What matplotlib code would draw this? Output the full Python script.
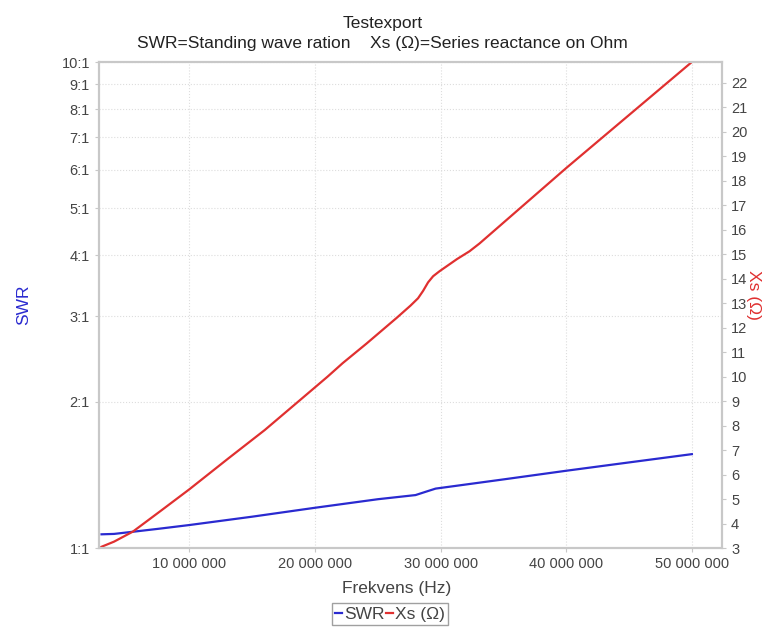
import matplotlib.pyplot as plt
from matplotlib.ticker import FixedLocator, NullLocator, FuncFormatter

plt.rcParams['font.family'] = ['Liberation Sans', 'DejaVu Sans']

# Frekvens (MHz) / Xs (ohm)
freq_mhz = [3.0, 4.0, 5.5, 7.8, 10.0, 13.1, 16.0, 18.8, 21.0, 22.2, 24.1, 26.5, 27.6,
            28.2, 28.6, 29.0, 29.4, 29.9, 31.3, 32.3, 33.1, 40.0, 50.0]
xs = [3.05, 3.26, 3.67, 4.55, 5.40, 6.66, 7.82, 9.04, 10.0, 10.55, 11.35, 12.4, 12.9,
      13.2, 13.5, 13.85, 14.1, 14.3, 14.8, 15.12, 15.44, 18.52, 22.85]

# Frekvens (MHz) / SWR
swr_freq_mhz = [3.0, 4.0, 5.5, 7.5, 10.0, 15.0, 20.0, 25.0, 28.0, 29.0, 29.6, 35.0,
                40.0, 45.0, 50.0]
swr = [1.067, 1.069, 1.080, 1.095, 1.115, 1.16, 1.21, 1.26, 1.285, 1.31, 1.325,
       1.384, 1.442, 1.50, 1.56]

swr_ticks = [1, 2, 3, 4, 5, 6, 7, 8, 9, 10]
xs_ticks = list(range(3, 23))
freq_ticks = [10e6, 20e6, 30e6, 40e6, 50e6]

blue = '#2a2ad0'
red = '#e03030'
grid_col = '#dddddd'
spine_col = '#c8c8c8'
txt_col = '#444444'

fig = plt.figure(figsize=(7.65, 6.28), dpi=100)
ax1 = fig.add_axes([99 / 765, 80 / 628, (722 - 99) / 765, (548 - 62) / 628])

l1, = ax1.plot([f * 1e6 for f in swr_freq_mhz], swr, color=blue, lw=1.6, label='SWR')
ax1.set_yscale('log')
ax1.set_ylim(1, 10)
ax1.set_xlim(2.8e6, 52.4e6)
ax1.yaxis.set_major_locator(FixedLocator(swr_ticks))
ax1.yaxis.set_minor_locator(NullLocator())
ax1.yaxis.set_major_formatter(FuncFormatter(lambda v, p: '%d:1' % round(v)))
ax1.xaxis.set_major_locator(FixedLocator(freq_ticks))
ax1.xaxis.set_major_formatter(FuncFormatter(lambda v, p: '{:,.0f}'.format(v).replace(',', ' ')))
ax1.grid(True, color=grid_col, lw=0.8, ls=':')
ax1.set_ylabel('SWR', color=blue, fontsize=12.5)
ax1.yaxis.set_label_coords(-68 / 623, 0.5)
ax1.set_xlabel('Frekvens (Hz)', color=txt_col, fontsize=12.5)
ax1.xaxis.set_label_coords((397 - 99) / 623, -33 / 486)
ax1.tick_params(colors=txt_col, labelsize=10.5, length=3, color=spine_col)

ax2 = ax1.twinx()
l2, = ax2.plot([f * 1e6 for f in freq_mhz], xs, color=red, lw=1.6, label='Xs (Ω)')
ax2.set_ylim(3, 22.85)
ax2.yaxis.set_major_locator(FixedLocator(xs_ticks))
ax2.set_ylabel('Xs (Ω)', color=red, fontsize=12.5, rotation=270, va='center')
ax2.yaxis.set_label_coords((754 - 99) / 623, 0.52)
ax2.tick_params(colors=txt_col, labelsize=10.5, length=3, color=spine_col)

for a in (ax1, ax2):
    for s in a.spines.values():
        s.set_color(spine_col)
        s.set_linewidth(1.5)

fig.text(0.5, 1 - 16 / 628, 'Testexport\nSWR=Standing wave ration    Xs (Ω)=Series reactance on Ohm',
         ha='center', va='top', fontsize=12.5, color='#222222', linespacing=1.45)

leg = fig.legend([l1, l2], ['SWR', 'Xs (Ω)'], loc='center', bbox_to_anchor=(390 / 765, 1 - 614 / 628),
                 ncol=2, handlelength=0.4, handletextpad=0.1, columnspacing=0.1,
                 frameon=True, fancybox=False, fontsize=12.5, borderpad=0.2)
leg.get_frame().set_edgecolor('#888888')
for t in leg.get_texts():
    t.set_color(txt_col)

fig.savefig('out.png', dpi=100)
